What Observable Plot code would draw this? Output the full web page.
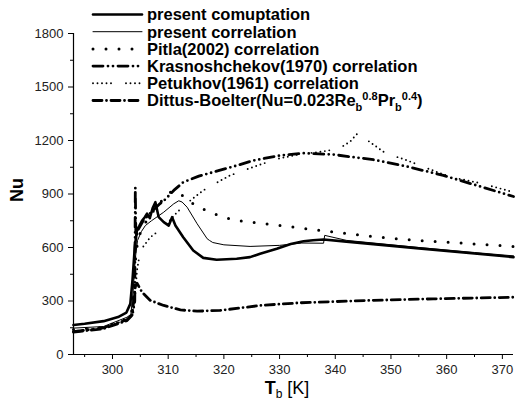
<!DOCTYPE html>
<html>
<head>
<meta charset="utf-8">
<script src="https://cdn.jsdelivr.net/npm/d3@7"></script>
<script src="https://cdn.jsdelivr.net/npm/@observablehq/plot@0.6"></script>
<style>
  html, body { margin: 0; padding: 0; background: #fff; }
  #chart { width: 516px; height: 401px; }
</style>
</head>
<body>
<div id="chart"></div>
<script>
// Nusselt number versus bulk temperature, six estimates.

// present computation
const compT  = [293, 295, 298.4, 301, 302.5, 303.2, 303.6, 304, 304.4, 304.8, 305.3, 305.8, 306.2, 306.7, 307.2, 307.7, 308.3, 309.2, 310.1, 310.7, 311.3, 312.7, 314.5, 316.3, 318.7, 322.3, 324.7, 326.5, 329.5, 332, 334.3, 336, 337.9, 342, 355, 365, 372];
const compNu = [165, 172, 187, 210, 235, 284, 420, 600, 700, 720, 750, 770, 790, 765, 820, 854, 770, 742, 723, 770, 723, 658, 583, 542, 531, 537, 546, 565, 593, 620, 635, 641, 645, 633, 595, 566, 546];

// present correlation
const corrT  = [293, 298.4, 302.6, 303.3, 303.7, 304.1, 304.5, 305.2, 305.9, 307, 309.2, 311, 311.9, 312.5, 313.4, 315.2, 317, 317.4, 318, 320, 324.7, 330, 334, 337.9, 338.1, 342, 355, 365, 372];
const corrNu = [148, 157, 209, 225, 350, 540, 640, 690, 723, 750, 798, 845, 862, 855, 826, 733, 649, 640, 628, 615, 606, 612, 625, 624, 668, 640, 600, 572, 553];

// Pitla (2002)
const pitlaT  = [293, 298.4, 302.6, 303.4, 303.8, 304.2, 304.6, 305.5, 307, 308.5, 310, 310.8, 312.5, 314.9, 317.5, 319.9, 322.4, 324.7, 327.4, 332.5, 337.6, 345.1, 352.2, 360, 372];
const pitlaNu = [140, 152, 200, 222, 380, 560, 650, 720, 790, 850, 905, 915, 892, 836, 798, 770, 751, 742, 733, 714, 695, 667, 645, 630, 606];

// Krasnoshchekov (1970)
const krasT  = [293, 298.4, 302.6, 303.6, 304.0, 304.1, 304.2, 304.6, 305.5, 307, 308.5, 309.5, 311, 312.7, 315.5, 318.7, 321.7, 325.3, 330.1, 334.3, 339.7, 346.9, 352.9, 359.4, 365.4, 372];
const krasNu = [128, 150, 195, 225, 300, 935, 650, 700, 750, 800, 845, 870, 920, 966, 1000, 1028, 1054, 1088, 1116, 1129, 1121, 1092, 1054, 1004, 948, 886];

// Petukhov (1961)
const petT  = [293, 298.4, 302.6, 303.5, 304, 304.4, 305, 306.8, 309.2, 311.6, 314, 316.3, 317.8, 321.1, 324.7, 327, 330, 334, 337, 340.6, 342.7, 344, 346.5, 349, 352.6, 359.1, 360.9, 366.6, 372];
const petNu = [130, 150, 195, 222, 300, 471, 583, 658, 714, 798, 864, 920, 948, 1004, 1045, 1070, 1100, 1125, 1135, 1153, 1195, 1240, 1185, 1129, 1092, 1013, 994, 957, 910];

// Dittus-Boelter
const dbT  = [293, 298.4, 302.6, 303.5, 304.1, 304.4, 305.3, 306.8, 309.2, 312.2, 315.2, 319.3, 326.5, 333.7, 345.7, 357.6, 372];
const dbNu = [125, 145, 190, 220, 380, 400, 349, 303, 275, 250, 243, 247, 275, 290, 303, 312, 321];

const seriesNames = [
  "present comuptation",
  "present correlation",
  "Pitla(2002) correlation",
  "Krasnoshchekov(1970) correlation",
  "Petukhov(1961) correlation",
  "Dittus-Boelter"
];
const seriesT  = [compT, corrT, pitlaT, krasT, petT, dbT];
const seriesNu = [compNu, corrNu, pitlaNu, krasNu, petNu, dbNu];

const xMajor = [300, 310, 320, 330, 340, 350, 360, 370];
const xMinor = [295, 305, 315, 325, 335, 345, 355, 365];
const yMajor = [0, 300, 600, 900, 1200, 1500, 1800];
const yMinor = [150, 450, 750, 1050, 1350, 1650];

// line styles, one per series
const styles = {
  "present comuptation":              {w: 2.6, dash: null},
  "present correlation":              {w: 1.0, dash: null},
  "Pitla(2002) correlation":          {w: 3.0, dash: "0 13"},
  "Krasnoshchekov(1970) correlation": {w: 2.8, dash: "10 5 0 5 0 5"},
  "Petukhov(1961) correlation":       {w: 1.9, dash: "0 4.5 0 4.5 0 4.5 0 4.5 0 15"},
  "Dittus-Boelter":                   {w: 2.8, dash: "9 4.5 0 4.5"}
};

const rows = seriesNames.flatMap((name, k) =>
  seriesT[k].map((t, i) => ({series: name, T: t, Nu: seriesNu[k][i]})));

const font = "'Liberation Sans', Arial, sans-serif";

const chart = Plot.plot({
  width: 516,
  height: 401,
  marginLeft: 73,
  marginRight: 3,
  marginTop: 33,
  marginBottom: 47,
  style: {fontFamily: font, fontSize: "13px", color: "#000", background: "#fff", overflow: "visible"},
  x: {domain: [293, 372]},
  y: {domain: [0, 1800]},
  marks: [
    Plot.axisX(xMajor, {tickSize: 5, tickPadding: 5, label: null, fill: "#222", tickFormat: d => String(d)}),
    Plot.axisX(xMinor, {tickSize: 3, tickFormat: () => "", label: null}),
    Plot.axisY(yMajor, {tickSize: 5, tickPadding: 5, label: null, fill: "#222", tickFormat: d => String(d)}),
    Plot.axisY(yMinor, {tickSize: 3, tickFormat: () => "", label: null}),
    Plot.ruleX([293], {stroke: "#000", strokeWidth: 1.2}),
    Plot.ruleY([0], {stroke: "#000", strokeWidth: 1.2}),
    ...seriesNames.map(name => Plot.line(rows.filter(d => d.series === name), {
      x: "T", y: "Nu",
      stroke: "#000",
      strokeWidth: styles[name].w,
      strokeDasharray: styles[name].dash,
      strokeLinecap: "round",
      strokeLinejoin: "round"
    }))
  ]
});

document.getElementById("chart").appendChild(chart);

const svg = d3.select(chart);

// axis titles
svg.append("text")
  .attr("transform", "translate(23,190) rotate(-90)")
  .attr("text-anchor", "middle")
  .attr("font-family", font).attr("font-size", 18).attr("font-weight", "bold")
  .text("Nu");

const xt = svg.append("text")
  .attr("x", 287).attr("y", 394)
  .attr("text-anchor", "middle")
  .attr("font-family", font).attr("font-size", 18);
xt.append("tspan").attr("font-weight", "bold").text("T");
xt.append("tspan").attr("font-size", 12).attr("dy", 4).text("b");
xt.append("tspan").attr("dy", -4).text(" [K]");

// legend
const legX0 = 93, legX1 = 142, legTextX = 147, legY0 = 14.5, legStep = 17.2;
const leg = svg.append("g")
  .attr("font-family", font).attr("font-weight", "bold").attr("font-size", 16.5)
  .attr("text-anchor", "start");
seriesNames.forEach((name, i) => {
  const y = legY0 + i * legStep;
  leg.append("line")
    .attr("x1", legX0).attr("x2", legX1).attr("y1", y).attr("y2", y)
    .attr("stroke", "#000")
    .attr("stroke-width", styles[name].w)
    .attr("stroke-dasharray", styles[name].dash)
    .attr("stroke-linecap", "round");
  const t = leg.append("text").attr("x", legTextX).attr("y", y).attr("dy", "0.36em");
  if (name === "Dittus-Boelter") {
    t.append("tspan").text("Dittus-Boelter(Nu=0.023Re");
    t.append("tspan").attr("font-size", 11).attr("dy", 5).text("b");
    t.append("tspan").attr("font-size", 11).attr("dy", -11).text("0.8");
    t.append("tspan").attr("dy", 6).text("Pr");
    t.append("tspan").attr("font-size", 11).attr("dy", 5).text("b");
    t.append("tspan").attr("font-size", 11).attr("dy", -11).text("0.4");
    t.append("tspan").attr("dy", 6).text(")");
  } else {
    t.text(name);
  }
});
</script>
</body>
</html>
